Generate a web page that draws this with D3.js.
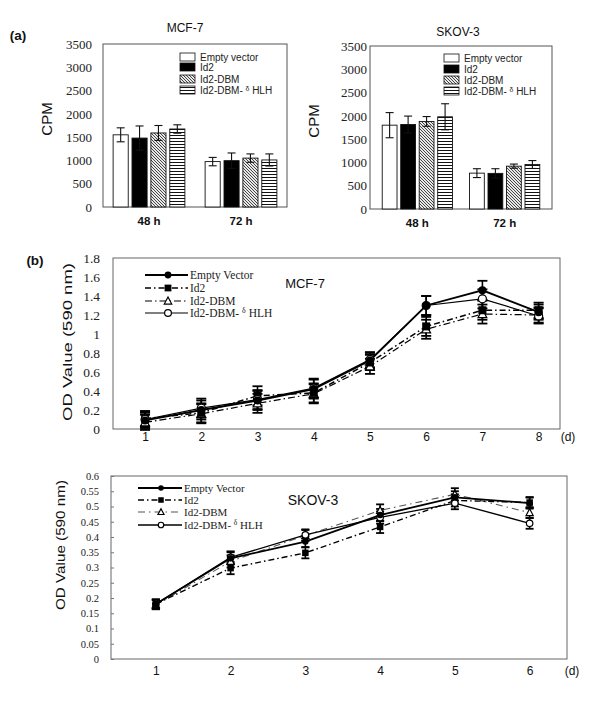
<!DOCTYPE html>
<html><head><meta charset="utf-8">
<script src="https://cdn.jsdelivr.net/npm/d3@7"></script>
<style>body{margin:0;background:#fff}svg{display:block}</style>
</head><body><svg id="c" width="600" height="701"></svg>
<script>
// ---------- DATA ----------
const barGroups = ["48 h", "72 h"];
const barSeries = ["Empty vector", "Id2", "Id2-DBM", "Id2-DBM-δHLH"];
const cpmTicks = [0, 500, 1000, 1500, 2000, 2500, 3000, 3500];
const cpmTickLabels = ["0", "500", "1000", "1500", "2000", "2500", "3000", "3500"];
// rows = series, columns = groups
const mcfBarValues = [[1550, 975], [1480, 995], [1590, 1050], [1675, 1010]];
const mcfBarErrors = [[150, 90], [260, 165], [160, 90], [90, 130]];
const skovBarValues = [[1800, 770], [1815, 765], [1880, 920], [1980, 955]];
const skovBarErrors = [[270, 95], [180, 100], [105, 45], [280, 85]];

const lineSeries = ["Empty Vector", "Id2", "Id2-DBM", "Id2-DBM-δHLH"];
const mcfDays = [1, 2, 3, 4, 5, 6, 7, 8];
const mcfEmpty = [0.09, 0.20, 0.30, 0.42, 0.72, 1.30, 1.46, 1.23];
const mcfId2 = [0.11, 0.17, 0.35, 0.38, 0.70, 1.08, 1.25, 1.25];
const mcfDBM = [0.07, 0.16, 0.27, 0.37, 0.66, 1.05, 1.21, 1.20];
const mcfHLH = [0.10, 0.22, 0.31, 0.43, 0.73, 1.30, 1.37, 1.19];
const mcfErr = [0.08, 0.10, 0.10, 0.10, 0.08, 0.10, 0.10, 0.08];
const mcfTicks = [0, 0.2, 0.4, 0.6, 0.8, 1, 1.2, 1.4, 1.6, 1.8];
const mcfTickLabels = ["0", "0.2", "0.4", "0.6", "0.8", "1", "1.2", "1.4", "1.6", "1.8"];

const skovDays = [1, 2, 3, 4, 5, 6];
const skovEmpty = [0.180, 0.330, 0.385, 0.472, 0.530, 0.511];
const skovId2 = [0.180, 0.298, 0.348, 0.433, 0.520, 0.513];
const skovDBM = [0.178, 0.320, 0.405, 0.487, 0.540, 0.480];
const skovHLH = [0.180, 0.333, 0.407, 0.464, 0.511, 0.445];
const skovErr = [0.015, 0.020, 0.018, 0.020, 0.020, 0.018];
const skovTicks = [0, 0.05, 0.1, 0.15, 0.2, 0.25, 0.3, 0.35, 0.4, 0.45, 0.5, 0.55, 0.6];
const skovTickLabels = ["0", "0.05", "0.1", "0.15", "0.2", "0.25", "0.3", "0.35", "0.4", "0.45", "0.5", "0.55", "0.6"];

// ---------- SETUP ----------
const svg = d3.select("#c");
const SANS = "Liberation Sans, Arial, sans-serif";
const SERIF = "Liberation Serif, Times New Roman, serif";
const defs = svg.append("defs");
const hp = defs.append("pattern").attr("id", "hatch").attr("patternUnits", "userSpaceOnUse").attr("width", 3).attr("height", 3);
hp.append("rect").attr("width", 3).attr("height", 3).attr("fill", "#e8e8e8");
hp.append("path").attr("d", "M-1,-1L4,4M-1,2L1,4M2,-1L4,1").attr("stroke", "#333").attr("stroke-width", 0.9);
const sp = defs.append("pattern").attr("id", "stripe").attr("patternUnits", "userSpaceOnUse").attr("width", 6).attr("height", 3);
sp.append("rect").attr("width", 6).attr("height", 3).attr("fill", "#fff");
sp.append("rect").attr("y", 0).attr("width", 6).attr("height", 1).attr("fill", "#111");
const barFills = ["#fff", "#000", "url(#hatch)", "url(#stripe)"];

function labelWithDelta(sel, name, size) {
  const parts = name.split("δ");
  if (parts.length === 1) { sel.text(name); return; }
  sel.append("tspan").text(parts[0] + " ");
  sel.append("tspan").text("δ").attr("font-size", size * 0.68).attr("dy", -size * 0.25);
  sel.append("tspan").text(" " + parts[1]).attr("dy", size * 0.25);
}

// ---------- BAR CHARTS ----------
function barChart(cfg) {
  const g = svg.append("g");
  const x0 = d3.scaleBand().domain(barGroups).range([cfg.left, cfg.right]).paddingInner(cfg.pin).paddingOuter(cfg.pout);
  const x1 = d3.scaleBand().domain(d3.range(barSeries.length)).range([0, x0.bandwidth()]).paddingInner(0.2);
  const y = d3.scaleLinear().domain([0, 3500]).range([cfg.bottom, cfg.top]);

  g.append("rect").attr("x", cfg.left).attr("y", cfg.top).attr("width", cfg.right - cfg.left)
    .attr("height", cfg.bottom - cfg.top).attr("fill", "none").attr("stroke", "#555").attr("stroke-width", 1);

  const ya = g.append("g").attr("transform", `translate(${cfg.left},0)`)
    .call(d3.axisLeft(y).tickValues(cpmTicks).tickSize(0).tickPadding(cfg.tickPad).tickFormat((d, i) => cpmTickLabels[i]));
  ya.select(".domain").remove();
  ya.selectAll("text").attr("font-family", SERIF).attr("font-size", 13).attr("fill", "#222");

  const xa = g.append("g").attr("transform", `translate(0,${cfg.bottom})`)
    .call(d3.axisBottom(x0).tickSize(0).tickPadding(10));
  xa.select(".domain").remove();
  xa.selectAll("text").attr("font-family", SANS).attr("font-size", 11.5).attr("font-weight", "bold").attr("fill", "#111");

  const flat = [];
  barSeries.forEach((s, si) => barGroups.forEach((grp, gi) => flat.push({ si, grp, v: cfg.values[si][gi], e: cfg.errors[si][gi] })));

  g.selectAll(".bar").data(flat).join("rect").attr("class", "bar")
    .attr("x", d => x0(d.grp) + x1(d.si)).attr("width", x1.bandwidth())
    .attr("y", d => y(d.v)).attr("height", d => y(0) - y(d.v))
    .attr("fill", d => barFills[d.si]).attr("stroke", "#111").attr("stroke-width", 0.9);

  const eb = g.selectAll(".err").data(flat).join("g").attr("class", "err")
    .attr("transform", d => `translate(${x0(d.grp) + x1(d.si) + x1.bandwidth() / 2},0)`);
  eb.append("line").attr("y1", d => y(d.v + d.e)).attr("y2", d => y(d.v - d.e)).attr("stroke", "#111").attr("stroke-width", 1.1);
  eb.append("line").attr("x1", -4).attr("x2", 4).attr("y1", d => y(d.v + d.e)).attr("y2", d => y(d.v + d.e)).attr("stroke", "#111").attr("stroke-width", 1.1);
  eb.append("line").attr("x1", -4).attr("x2", 4).attr("y1", d => y(d.v - d.e)).attr("y2", d => y(d.v - d.e)).attr("stroke", "#111").attr("stroke-width", 1.1);

  g.append("text").attr("x", cfg.titleX).attr("y", cfg.titleY).attr("text-anchor", "middle").attr("dominant-baseline", "central")
    .attr("font-family", SANS).attr("font-size", 12).attr("fill", "#111").text(cfg.title);
  g.append("text").attr("transform", `translate(${cfg.ylX},${cfg.ylY}) rotate(-90)`).attr("text-anchor", "middle")
    .attr("dominant-baseline", "central").attr("font-family", SANS).attr("font-size", 15).attr("fill", "#111").text("CPM");

  const lg = g.append("g");
  barSeries.forEach((s, i) => {
    const ry = cfg.legY[i];
    lg.append("rect").attr("x", cfg.legX).attr("y", ry - 4).attr("width", 15).attr("height", 8)
      .attr("fill", barFills[i]).attr("stroke", "#111").attr("stroke-width", 0.8);
    const t = lg.append("text").attr("x", cfg.legX + 20).attr("y", ry).attr("dominant-baseline", "central")
      .attr("font-family", SANS).attr("font-size", 10).attr("fill", "#222");
    labelWithDelta(t, s, 10);
  });
}

barChart({ left: 103, right: 287, top: 44, bottom: 207, pin: 0.22, pout: 0.11, tickPad: 11,
  values: mcfBarValues, errors: mcfBarErrors, title: "MCF-7", titleX: 185, titleY: 28, ylX: 46, ylY: 119,
  legX: 180, legY: [57, 67, 79, 90] });
barChart({ left: 370, right: 552, top: 46, bottom: 209, pin: 0.195, pout: 0.14, tickPad: 3,
  values: skovBarValues, errors: skovBarErrors, title: "SKOV-3", titleX: 458, titleY: 32, ylX: 313, ylY: 121,
  legX: 444, legY: [58, 69, 80, 91] });

svg.append("text").attr("x", 18).attr("y", 35).attr("text-anchor", "middle").attr("dominant-baseline", "central")
  .attr("font-family", SANS).attr("font-size", 13.5).attr("font-weight", "bold").attr("fill", "#111").text("(a)");
svg.append("text").attr("x", 35).attr("y", 260).attr("text-anchor", "middle").attr("dominant-baseline", "central")
  .attr("font-family", SANS).attr("font-size", 13.5).attr("font-weight", "bold").attr("fill", "#111").text("(b)");

// ---------- LINE CHARTS ----------
function drawMarker(g, type, cx, cy, s) {
  if (type === "fcircle") g.append("circle").attr("cx", cx).attr("cy", cy).attr("r", s / 2).attr("fill", "#000");
  else if (type === "ocircle") g.append("circle").attr("cx", cx).attr("cy", cy).attr("r", s / 2).attr("fill", "#fff").attr("stroke", "#000").attr("stroke-width", 1.2);
  else if (type === "fsquare") g.append("rect").attr("x", cx - s / 2).attr("y", cy - s / 2).attr("width", s).attr("height", s).attr("fill", "#000");
  else if (type === "otriangle") g.append("path")
    .attr("d", `M${cx},${cy - s * 0.6}L${cx + s * 0.55},${cy + s * 0.45}L${cx - s * 0.55},${cy + s * 0.45}Z`)
    .attr("fill", "#fff").attr("stroke", "#000").attr("stroke-width", 1.2);
}

function lineChart(cfg) {
  const g = svg.append("g");
  const x = d3.scaleLinear().domain(cfg.xDomain).range([cfg.left, cfg.right]);
  const y = d3.scaleLinear().domain(cfg.yDomain).range([cfg.bottom, cfg.top]);

  g.append("rect").attr("x", cfg.left).attr("y", cfg.top).attr("width", cfg.right - cfg.left)
    .attr("height", cfg.bottom - cfg.top).attr("fill", "none").attr("stroke", "#666").attr("stroke-width", 1);

  const ya = g.append("g").attr("transform", `translate(${cfg.left},0)`)
    .call(d3.axisLeft(y).tickValues(cfg.yTicks).tickSizeInner(cfg.yTickSize).tickSizeOuter(0)
      .tickPadding(cfg.tickPad).tickFormat((d, i) => cfg.yTickLabels[i]));
  ya.select(".domain").remove();
  ya.selectAll("line").attr("stroke", "#777");
  ya.selectAll("text").attr("font-family", SERIF).attr("font-size", cfg.yFont).attr("fill", "#222");

  const xa = g.append("g").attr("transform", `translate(0,${cfg.bottom})`)
    .call(d3.axisBottom(x).tickValues(cfg.days).tickSize(0).tickPadding(cfg.xPad).tickFormat(d3.format("d")));
  xa.select(".domain").remove();
  xa.selectAll("text").attr("font-family", SANS).attr("font-size", 12).attr("fill", "#111");
  g.append("text").attr("x", cfg.dX).attr("y", cfg.bottom + cfg.xPad).attr("dy", "0.71em").attr("text-anchor", "middle")
    .attr("font-family", SANS).attr("font-size", 12).attr("fill", "#111").text("(d)");

  g.append("text").attr("transform", `translate(${cfg.ylX},${cfg.ylY}) rotate(-90)`).attr("text-anchor", "middle")
    .attr("dominant-baseline", "central").attr("font-family", SANS).attr("font-size", cfg.ylFont)
    .attr("textLength", cfg.ylLen).attr("lengthAdjust", "spacingAndGlyphs").attr("fill", "#111").text("OD Value (590 nm)");

  g.append("text").attr("x", cfg.nameX).attr("y", cfg.nameY).attr("text-anchor", "middle").attr("dominant-baseline", "central")
    .attr("font-family", SANS).attr("font-size", cfg.nameFont).attr("fill", "#111").text(cfg.name);

  const line = d3.line().x((d, i) => x(cfg.days[i])).y(d => y(d));
  const order = [2, 1, 3, 0];
  order.forEach(si => {
    const s = cfg.series[si];
    g.append("path").attr("d", line(s.values)).attr("fill", "none").attr("stroke", s.color)
      .attr("stroke-width", s.width).attr("stroke-dasharray", s.dash);
  });
  order.forEach(si => {
    const s = cfg.series[si];
    s.values.forEach((v, i) => {
      const cx = x(cfg.days[i]), e = cfg.err[i];
      g.append("line").attr("x1", cx).attr("x2", cx).attr("y1", y(v + e)).attr("y2", y(v - e)).attr("stroke", "#000").attr("stroke-width", 1.6);
      [v + e, v - e].forEach(w => g.append("line").attr("x1", cx - cfg.cap).attr("x2", cx + cfg.cap)
        .attr("y1", y(w)).attr("y2", y(w)).attr("stroke", "#000").attr("stroke-width", 1.8));
    });
  });
  order.forEach(si => {
    const s = cfg.series[si];
    s.values.forEach((v, i) => drawMarker(g, s.marker, x(cfg.days[i]), y(v), cfg.msize));
  });

  cfg.series.forEach((s, i) => {
    const ry = cfg.legY[i];
    g.append("line").attr("x1", cfg.legX1).attr("x2", cfg.legX2).attr("y1", ry).attr("y2", ry)
      .attr("stroke", s.color).attr("stroke-width", s.width).attr("stroke-dasharray", s.dash);
    drawMarker(g, s.marker, cfg.legM, ry, cfg.msize * 0.85);
    const t = g.append("text").attr("x", cfg.legX2 + 2).attr("y", ry).attr("dominant-baseline", "central")
      .attr("font-family", SERIF).attr("font-size", cfg.legFont).attr("fill", "#222");
    labelWithDelta(t, lineSeries[i], cfg.legFont);
  });
}

lineChart({
  left: 113, right: 560, top: 258, bottom: 429, xDomain: [0.43, 8.38], yDomain: [0, 1.8],
  days: mcfDays, yTicks: mcfTicks, yTickLabels: mcfTickLabels, yTickSize: 0, tickPad: 13, yFont: 13.5, xPad: 3,
  dX: 568, ylX: 67, ylY: 342, ylFont: 13.5, ylLen: 158, name: "MCF-7", nameX: 305, nameY: 283, nameFont: 13,
  err: mcfErr, cap: 5, msize: 8,
  series: [
    { values: mcfEmpty, marker: "fcircle", color: "#000", width: 1.8, dash: null },
    { values: mcfId2, marker: "fsquare", color: "#000", width: 1.5, dash: "6,3,1.5,3" },
    { values: mcfDBM, marker: "otriangle", color: "#000", width: 1.2, dash: "7,3,1.5,3" },
    { values: mcfHLH, marker: "ocircle", color: "#000", width: 1.2, dash: null }
  ],
  legX1: 145, legX2: 188, legM: 168, legY: [275, 288, 301, 313], legFont: 11.5
});

lineChart({
  left: 111, right: 567, top: 476, bottom: 659, xDomain: [0.4, 6.5], yDomain: [0, 0.6],
  days: skovDays, yTicks: skovTicks, yTickLabels: skovTickLabels, yTickSize: -3, tickPad: 12, yFont: 10.5, xPad: 7,
  dX: 572, ylX: 61, ylY: 545, ylFont: 12, ylLen: 130, name: "SKOV-3", nameX: 313, nameY: 500, nameFont: 14,
  err: skovErr, cap: 4, msize: 6.5,
  series: [
    { values: skovEmpty, marker: "fcircle", color: "#000", width: 1.8, dash: null },
    { values: skovId2, marker: "fsquare", color: "#000", width: 1.4, dash: "6,3,1.5,3" },
    { values: skovDBM, marker: "otriangle", color: "#555", width: 1.1, dash: "7,4,1.5,4" },
    { values: skovHLH, marker: "ocircle", color: "#000", width: 1.3, dash: null }
  ],
  legX1: 138, legX2: 182, legM: 161, legY: [488, 500, 512, 525], legFont: 11
});
</script>
</body></html>
